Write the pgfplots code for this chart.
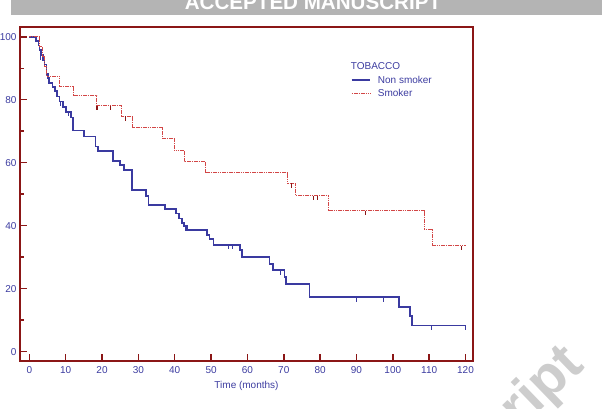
\documentclass[border=0pt]{standalone}
\usepackage{pgfplots}
\pgfplotsset{compat=1.18}
\usepackage{fontspec}
\setmainfont{Liberation Sans}

\definecolor{axred}{RGB}{139,22,22}
\definecolor{kmblue}{RGB}{58,58,160}
\definecolor{kmred}{RGB}{210,70,70}
\definecolor{labblue}{RGB}{60,60,160}
\definecolor{banner}{RGB}{180,180,180}
\definecolor{wmark}{RGB}{205,205,205}

% censoring tick: short vertical stroke hanging below the curve
\pgfdeclareplotmark{cens}{%
  \pgfpathmoveto{\pgfpoint{0pt}{0pt}}%
  \pgfpathlineto{\pgfpoint{0pt}{-4.5pt}}%
  \pgfusepathqstroke}

\begin{document}
\begin{tikzpicture}
\useasboundingbox (0pt,0pt) rectangle (602pt,409pt);

% header band
\fill[banner] (11pt,394.4pt) rectangle (610pt,415pt);
\node[anchor=base, text=white, inner sep=0pt,
      font=\bfseries\fontsize{20.6}{24}\selectfont] at (313pt,399.4pt) {ACCEPTED MANUSCRIPT};

% diagonal watermark
\node[anchor=base east, rotate=44, text=wmark, inner sep=0pt,
      font=\bfseries\fontsize{56}{60}\selectfont] at (586pt,42pt) {Manuscript};

\begin{axis}[
  at={(20pt,48pt)}, anchor=south west,
  scale only axis, width=453pt, height=334pt,
  xmin=-2.56, xmax=122.06, ymin=-2.95, ymax=103.1,
  axis line style={draw=axred, line width=2pt},
  xtick={0,10,...,120}, ytick={0,20,...,100},
  minor ytick={10,30,...,90},
  tick align=inside, xtick pos=lower, ytick pos=left,
  major tick length=7pt, minor tick length=4pt,
  tick style={draw=axred, line width=1.5pt},
  ticklabel style={font=\fontsize{10}{12}\selectfont, text=labblue},
  xticklabel style={yshift=-2pt},
  /pgf/number format/assume math mode=true,
  xlabel={Time (months)},
  xlabel style={at={(axis description cs:0.5,-0.075)}, anchor=center,
                font=\fontsize{10}{12}\selectfont, text=labblue},
  legend image code/.code={\draw[#1] (0pt,0pt) -- (18.6pt,0pt);},
  legend style={draw=none, fill=none, at={(rel axis cs:0.730,0.842)}, anchor=west,
                font=\fontsize{10}{12}\selectfont, text=labblue,
                inner sep=0pt, row sep=6.4pt,
                nodes={inner sep=0pt, text height=7pt, text depth=0pt},
                /tikz/every odd column/.append style={column sep=6.7pt}},
  legend cell align=left,
]

\addlegendimage{empty legend}
\addlegendentry{\hspace*{-27pt}TOBACCO}

% Non smoker: Kaplan-Meier estimate (value held from each time to the next)
\addplot[const plot, color=kmblue, line width=1.7pt] coordinates {
  (0,100) (1.9,98.6) (2.5,97.2) (2.8,95.7) (3.2,94.2) (3.7,92.7) (4.2,91.2)
  (4.7,88.2) (5.1,86.8) (5.5,85.4) (6.4,84.1) (7.1,82.8) (7.7,81.0)
  (8.3,79.4) (9.2,77.6) (10.1,76.2) (11.4,74.4) (12.0,70.2) (15.1,68.3)
  (18.2,65.2) (18.9,63.7) (23.1,60.6) (25.0,59.3) (26.1,57.7) (28.2,51.3)
  (32.1,49.4) (32.8,46.6) (37.4,45.2) (40.4,43.9) (41.1,42.3) (42.0,40.8)
  (42.6,39.9) (43.3,38.6) (48.8,37.0) (49.6,35.7) (50.7,33.9) (57.9,32.3)
  (58.5,30.0) (66.1,27.8) (67.0,25.9) (70.2,23.8) (70.6,21.5) (77.1,17.3)
  (101.7,14.3) (104.7,11.3) (105.3,8.3) (120,8.3)
};
\addlegendentry{Non smoker}

% Smoker
\addplot[const plot, color=kmred, line width=0.9pt, dash pattern=on 1.6pt off 0.7pt] coordinates {
  (0,100) (2.8,96.9) (3.5,93.8) (4.2,90.6) (4.8,87.5) (8.3,84.3) (12.1,81.3)
  (18.6,78.1) (25.4,74.8) (28.5,71.1) (36.7,67.7) (39.8,63.9) (42.6,60.3)
  (48.4,56.8) (71.1,53.5) (73.3,49.5) (82.3,44.7) (108.7,38.9) (110.9,33.6)
  (120.2,33.6)
};
\addlegendentry{Smoker}

% censored observations
\addplot[forget plot, only marks, mark=cens, color=kmblue, line width=1pt] coordinates {
  (3.1,94.2) (8.6,79.4) (10.7,76.2) (42.9,39.9) (54.8,33.9) (55.8,33.9)
  (69.1,25.9) (90.0,17.3) (97.4,17.3) (110.7,8.3) (120,8.3)
};
\addplot[forget plot, only marks, mark=cens, color=axred, line width=1.3pt] coordinates {
  (18.6,78.1) (22.4,78.1) (26.5,74.8) (72.1,53.5) (78.1,49.5) (79.2,49.5)
  (92.5,44.7) (118.9,33.6)
};
\end{axis}
\end{tikzpicture}
\end{document}
